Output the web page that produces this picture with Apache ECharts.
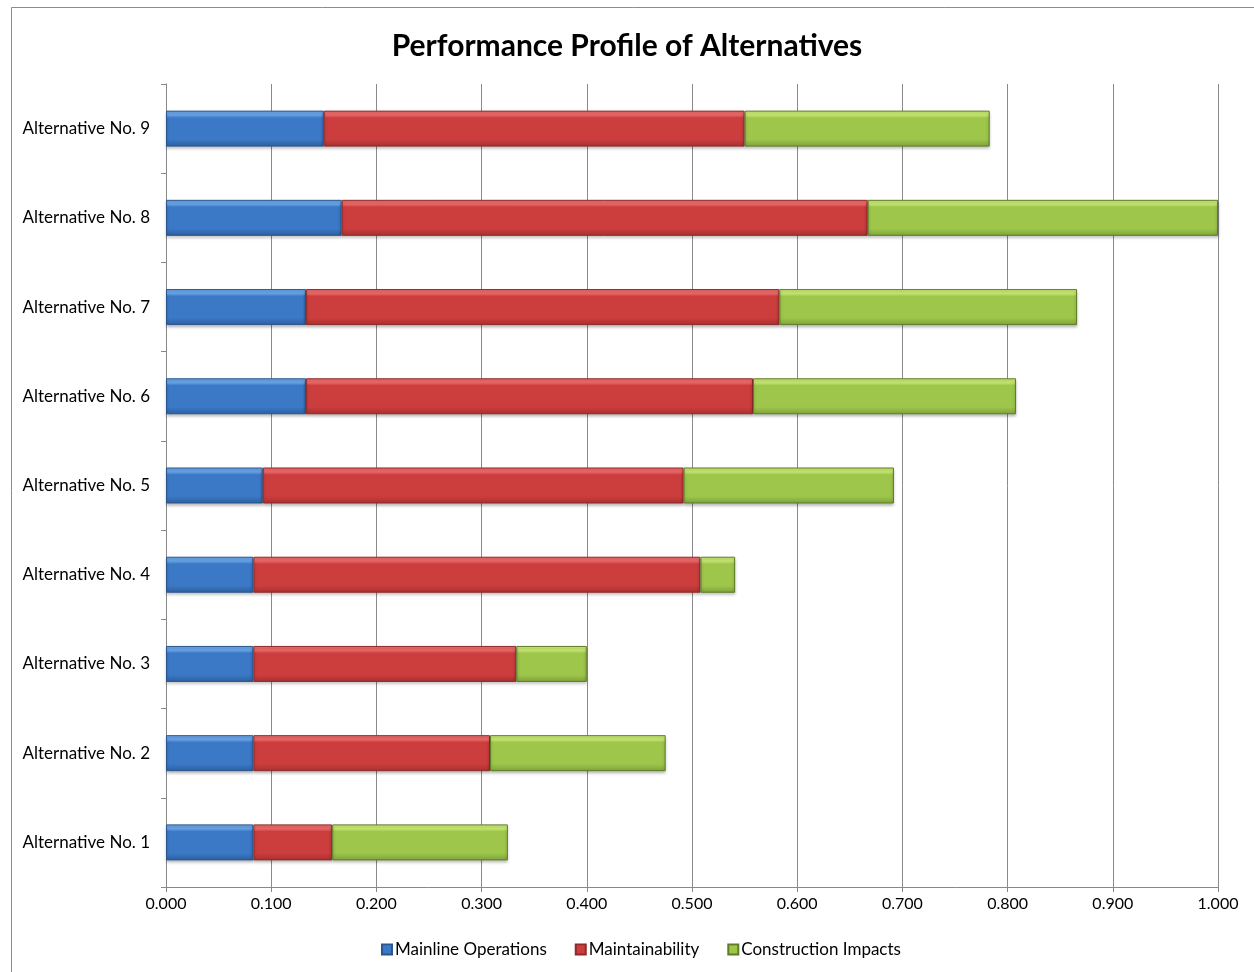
<!DOCTYPE html>
<html>
<head>
<meta charset="utf-8">
<script src="https://cdn.jsdelivr.net/npm/echarts@6/dist/echarts.min.js"></script>
<style>
  html, body { margin: 0; padding: 0; background: #fff; }
  #chart { width: 1254px; height: 972px; }
</style>
</head>
<body>
<div id="chart"></div>
<script>
// Alternatives, bottom to top
const categories = [
  'Alternative No. 1', 'Alternative No. 2', 'Alternative No. 3',
  'Alternative No. 4', 'Alternative No. 5', 'Alternative No. 6',
  'Alternative No. 7', 'Alternative No. 8', 'Alternative No. 9'
];
const mainlineOperations = [0.083, 0.083, 0.083, 0.083, 0.092, 0.133, 0.133, 0.167, 0.150];
const maintainability    = [0.075, 0.225, 0.250, 0.425, 0.400, 0.425, 0.450, 0.500, 0.400];
const constructionImpacts = [0.167, 0.167, 0.067, 0.033, 0.200, 0.250, 0.283, 0.333, 0.233];
const xTicks = [0, 0.1, 0.2, 0.3, 0.4, 0.5, 0.6, 0.7, 0.8, 0.9, 1.0];

const FONT = 'Lato, "Open Sans", "Liberation Sans", sans-serif';

// Vertical bevel-like gradient for a bar segment
function barGradient(light, mid, dark) {
  return new echarts.graphic.LinearGradient(0, 0, 0, 1, [
    { offset: 0, color: light },
    { offset: 0.12, color: light },
    { offset: 0.2, color: mid },
    { offset: 0.8, color: mid },
    { offset: 1, color: dark }
  ]);
}

function segment(name, data, light, mid, dark, border) {
  return {
    name: name,
    type: 'bar',
    stack: 'total',
    barWidth: 36,
    data: data,
    itemStyle: {
      color: barGradient(light, mid, dark),
      borderColor: border,
      borderWidth: 1,
      shadowColor: 'rgba(0,0,0,0.28)',
      shadowBlur: 3,
      shadowOffsetY: 2
    },
    emphasis: { disabled: true }
  };
}

const chart = echarts.init(document.getElementById('chart'), null, { renderer: 'canvas' });
chart.setOption({
  animation: false,
  backgroundColor: '#ffffff',
  graphic: [{
    type: 'rect',
    shape: { x: 11.5, y: 7.5, width: 1262, height: 985 },
    style: { fill: 'none', stroke: '#8c8c8c', lineWidth: 1 },
    silent: true,
    z: -10
  }],
  title: {
    text: 'Performance Profile of Alternatives',
    left: 'center',
    top: 26,
    textStyle: { fontFamily: FONT, fontSize: 30, fontWeight: 'bold', color: '#000' }
  },
  legend: {
    bottom: 9,
    left: 376,
    itemWidth: 10,
    itemHeight: 10,
    itemGap: 28,
    icon: 'rect',
    textStyle: { fontFamily: FONT, fontSize: 17, color: '#000', padding: [0, 0, 0, -2] },
    data: ['Mainline Operations', 'Maintainability', 'Construction Impacts']
  },
  grid: { left: 166, right: 36, top: 84, bottom: 85, containLabel: false },
  xAxis: {
    type: 'value',
    min: 0,
    max: 1,
    interval: 0.1,
    axisLine: { show: true, lineStyle: { color: '#888', width: 1 } },
    axisTick: { show: true, length: 5, lineStyle: { color: '#888' } },
    splitLine: { show: true, lineStyle: { color: '#8a8a8a', width: 1 } },
    axisLabel: {
      fontFamily: FONT, fontSize: 16, color: '#000', margin: 9,
      formatter: v => {
        const t = xTicks.find(x => Math.abs(x - v) < 1e-9);
        return (t !== undefined ? t : v).toFixed(3);
      }
    }
  },
  yAxis: {
    type: 'category',
    data: categories,
    axisLine: { show: true, lineStyle: { color: '#888', width: 1 } },
    axisTick: { show: true, length: 5, lineStyle: { color: '#888' } },
    splitLine: { show: false },
    axisLabel: { fontFamily: FONT, fontSize: 17, color: '#000', margin: 16 }
  },
  series: [
    segment('Mainline Operations', mainlineOperations, '#6aa6ea', '#3b78c6', '#2d5f9e', '#2a5690'),
    segment('Maintainability', maintainability, '#ef6a6a', '#cc3d3d', '#a83030', '#8f2a2a'),
    segment('Construction Impacts', constructionImpacts, '#c8ea72', '#9dc64b', '#7ea23a', '#5f7c28')
  ]
});
</script>
</body>
</html>
